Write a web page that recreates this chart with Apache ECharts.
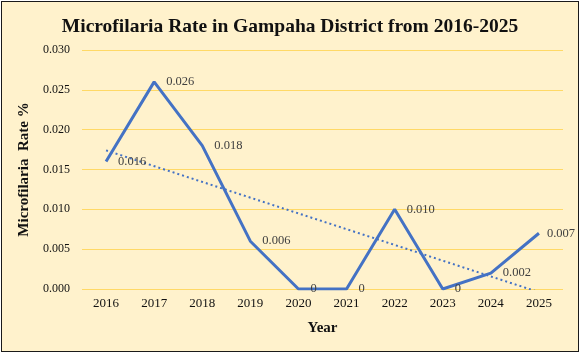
<!DOCTYPE html>
<html lang="en">
<head>
    <meta charset="UTF-8">
    <title>Microfilaria Rate</title>
    <script src="https://cdn.jsdelivr.net/npm/echarts@6/dist/echarts.min.js"></script>
    <style>
        body { margin: 0; background: #fff; }
        #frame {
            position: absolute; left: 1px; top: 1px;
            width: 576px; height: 349px;
            border: 1px solid #1a1a1a;
            background: #FFF2CC;
        }
        #root { position: absolute; left: 0; top: 0; width: 580px; height: 352px; }
    </style>
</head>
<body>
    <div id="frame"></div>
    <div id="root"></div>
    <script>
        var years = ['2016', '2017', '2018', '2019', '2020', '2021', '2022', '2023', '2024', '2025'];
        var rates = [0.016, 0.026, 0.018, 0.006, 0, 0, 0.010, 0, 0.002, 0.007];
        // dotted linear trend, end values
        var trend = [0.0174, null, null, null, null, null, null, null, null, -0.0004];

        var serif = 'Liberation Serif';
        var mychart = echarts.init(document.getElementById('root'));

        mychart.setOption({
            backgroundColor: 'transparent',
            title: {
                text: 'Microfilaria Rate in Gampaha District from 2016-2025',
                left: 'center',
                top: 12,
                textStyle: { fontFamily: serif, fontSize: 19.5, fontWeight: 'bold', color: '#111' }
            },
            grid: { left: 82, right: 17, top: 50, bottom: 63 },
            xAxis: {
                type: 'category',
                data: years,
                name: 'Year',
                nameLocation: 'middle',
                nameGap: 32,
                nameTextStyle: { fontFamily: serif, fontSize: 15, fontWeight: 'bold', color: '#111' },
                axisLine: { show: false },
                axisTick: { show: false },
                axisLabel: { fontFamily: serif, fontSize: 13, color: '#111', margin: 8 }
            },
            yAxis: {
                type: 'value',
                min: 0,
                max: 0.030,
                interval: 0.005,
                name: 'Microfilaria  Rate %',
                nameLocation: 'middle',
                nameGap: 40,
                nameTextStyle: { fontFamily: serif, fontSize: 15, fontWeight: 'bold', color: '#111' },
                axisLabel: {
                    fontFamily: serif, fontSize: 12, color: '#111', margin: 12,
                    formatter: function (v) { return v.toFixed(3); }
                },
                splitLine: { lineStyle: { color: '#FFD966', width: 1 } }
            },
            series: [{
                type: 'line',
                data: rates,
                symbol: 'circle',
                symbolSize: 2,
                showSymbol: true,
                itemStyle: { color: 'rgba(0,0,0,0)' },
                lineStyle: { color: '#4472C4', width: 3 },
                label: {
                    show: true,
                    position: 'right',
                    distance: 11,
                    fontFamily: serif,
                    fontSize: 12.5,
                    color: '#404040',
                    formatter: function (p) { return p.value === 0 ? '0' : p.value.toFixed(3); }
                },
                // last label sits a little closer so it stays inside the frame
                labelLayout: function (p) {
                    return p.dataIndex === rates.length - 1 ? { dx: -4 } : {};
                },
                z: 3
            }, {
                type: 'line',
                data: trend,
                connectNulls: true,
                symbol: 'none',
                clip: true,
                lineStyle: { color: '#4472C4', width: 2, type: [2, 3] },
                z: 2
            }]
        });
    </script>
</body>
</html>
